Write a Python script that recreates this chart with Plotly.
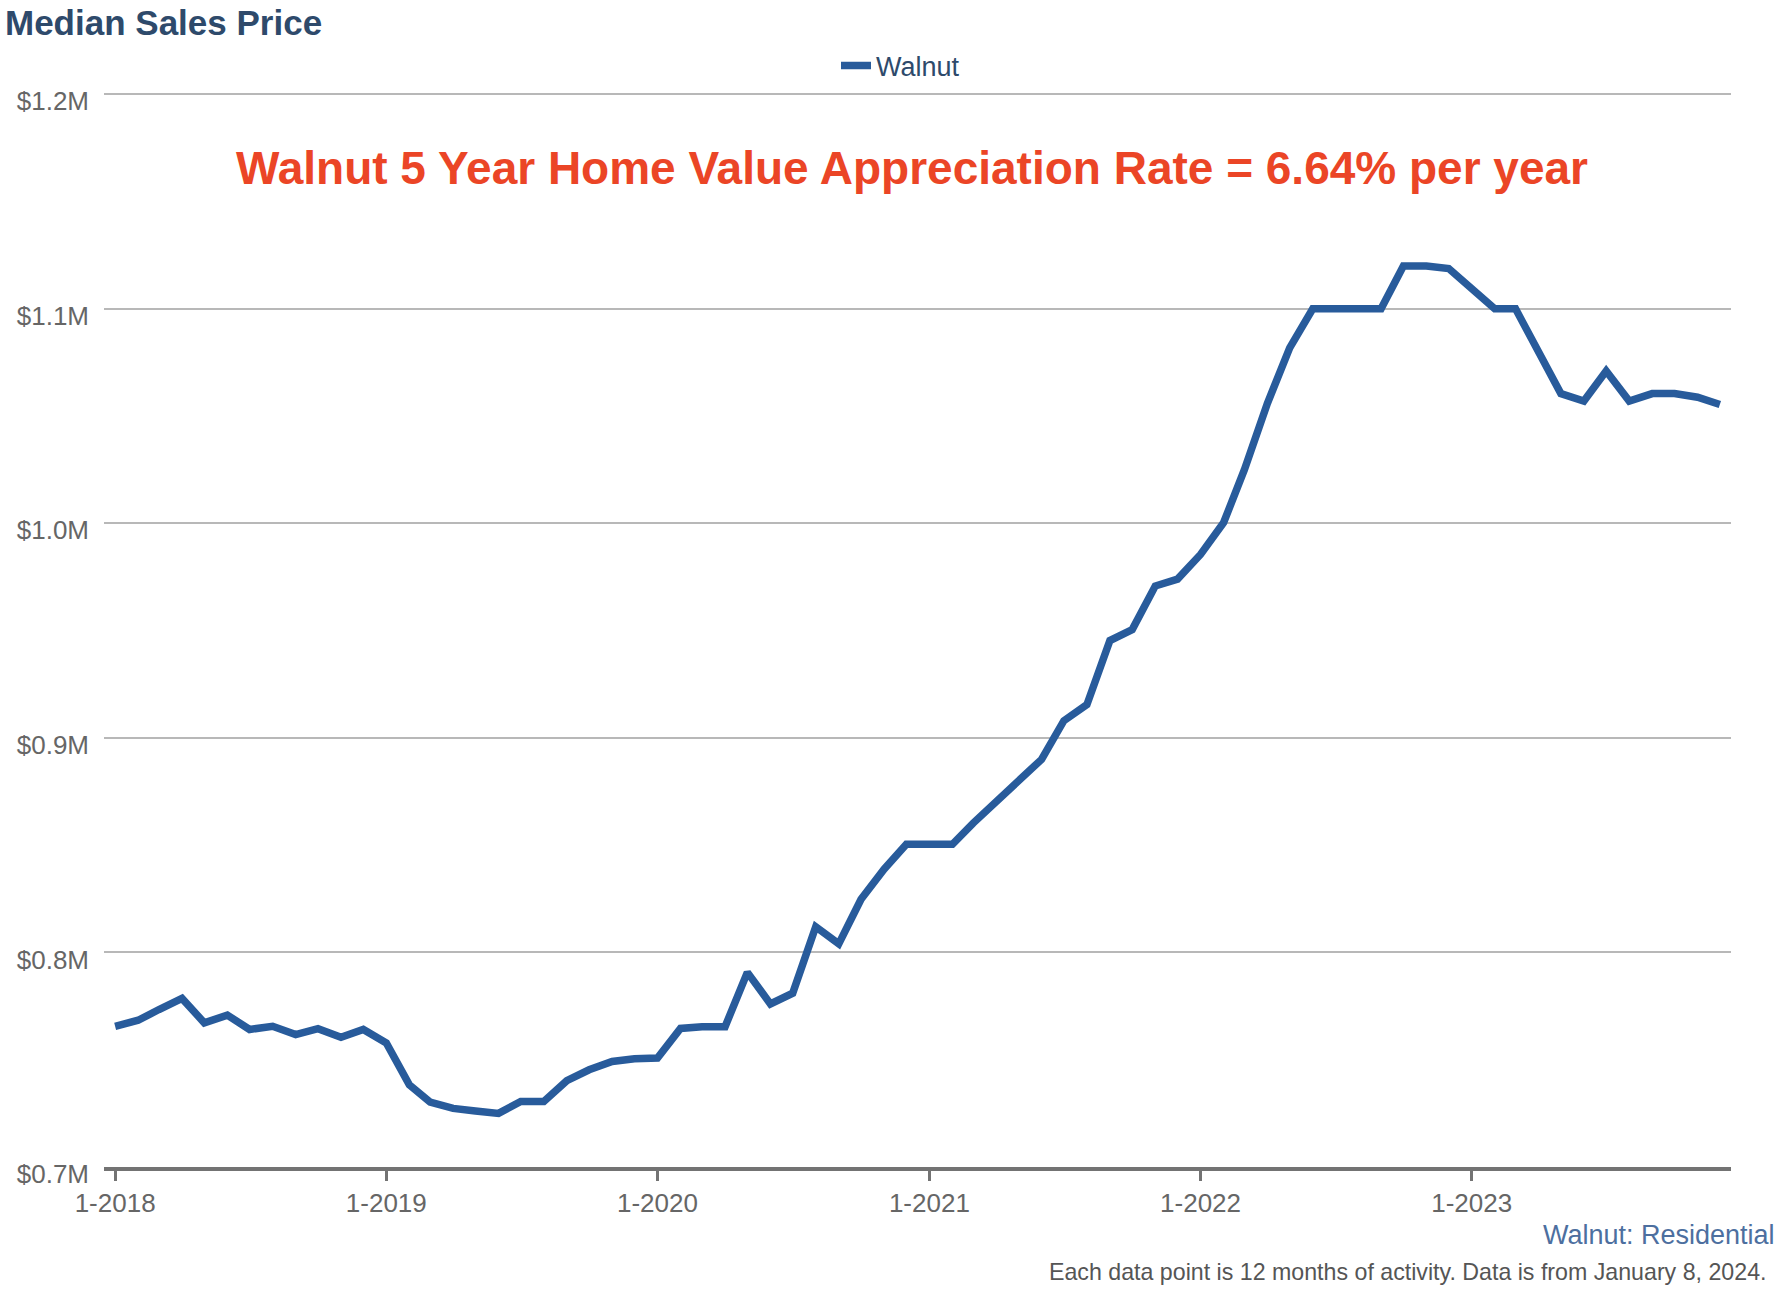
import pandas as pd
import plotly.graph_objects as go

# ---- data (median sales price, USD) ----
v2018 = [765600, 768400, 773400, 778600, 767200, 770800, 764100, 765600, 761700, 764500, 760500, 764100]
v2019 = [757800, 738300, 730200, 727300, 726100, 725000, 730500, 730500, 740200, 745300, 749200, 750500]
v2020 = [750800, 764600, 765400, 765400, 790700, 776000, 781000, 812000, 804000, 824800, 838800, 850400]
v2021 = [850400, 850400, 860300, 870000, 880000, 890000, 908000, 915500, 945400, 950500, 970800, 974000]
v2022 = [985500, 1000300, 1025000, 1056000, 1081800, 1100000, 1100000, 1100000, 1100000, 1120000, 1120000, 1118800]
v2023 = [1109800, 1100000, 1100000, 1080000, 1060500, 1057000, 1071000, 1057000, 1060500, 1060500, 1058800, 1055400]

values = v2018 + v2019 + v2020 + v2021 + v2022 + v2023
months = pd.date_range("2018-01-01", periods=len(values), freq="MS")

series_name = "Walnut"
x_tick_vals = ["2018-01-01", "2019-01-01", "2020-01-01", "2021-01-01", "2022-01-01", "2023-01-01"]
x_tick_text = ["1-2018", "1-2019", "1-2020", "1-2021", "1-2022", "1-2023"]
y_tick_vals = [700000, 800000, 900000, 1000000, 1100000, 1200000]
y_tick_text = ["$0.7M", "$0.8M", "$0.9M", "$1.0M", "$1.1M", "$1.2M"]

chart_title = "Median Sales Price"
headline = "Walnut 5 Year Home Value Appreciation Rate = 6.64% per year"
source_label = "Walnut: Residential"
footnote = "Each data point is 12 months of activity. Data is from January 8, 2024."

FONT = "Liberation Sans, Arial, Helvetica, sans-serif"
W, H = 1788, 1294
L, R, T, B = 104, 57, 93, 127
PW, PH = W - L - R, H - T - B

fig = go.Figure()
fig.add_trace(go.Scatter(
    x=months, y=values, mode="lines", name=series_name,
    line=dict(color="#285b9b", width=7.5),
))

fig.update_layout(
    width=W, height=H,
    margin=dict(l=L, r=R, t=T, b=B, pad=0, autoexpand=False),
    paper_bgcolor="white", plot_bgcolor="white",
    font=dict(family=FONT, color="#666666"),
    title=dict(
        text=chart_title, xref="container", yref="container",
        x=5 / W, xanchor="left", y=1 - 23 / H, yanchor="middle",
        font=dict(family=FONT, size=35, color="#2e4a6b", weight="bold"),
    ),
    showlegend=True,
    legend=dict(
        orientation="h", xref="container", yref="container",
        x=836 / W, xanchor="left", y=1 - 66 / H, yanchor="middle",
        font=dict(family=FONT, size=27, color="#2e4a6b"),
        bgcolor="rgba(0,0,0,0)",
    ),
    xaxis=dict(
        type="date",
        range=["2017-12-17", "2023-12-16"],
        tickvals=x_tick_vals, ticktext=x_tick_text,
        showgrid=False, zeroline=False,
        showline=True, linecolor="#737373", linewidth=4,
        ticks="outside", ticklen=10, tickwidth=3, tickcolor="#737373",
        tickfont=dict(family=FONT, size=26, color="#666666"),
        ticklabelstandoff=0,
    ),
    yaxis=dict(
        range=[700000, 1200600],
        tickvals=y_tick_vals, ticktext=y_tick_text,
        showgrid=True, gridcolor="#b8b8b8", gridwidth=2,
        zeroline=False, showline=False, ticks="",
        tickfont=dict(family=FONT, size=26, color="#666666"),
        ticklabelstandoff=14, ticklabelshift=7,
    ),
)

fig.add_annotation(
    text=headline, xref="paper", yref="paper",
    x=(912 - L) / PW, y=(H - B - 168) / PH,
    xanchor="center", yanchor="middle", showarrow=False,
    font=dict(family=FONT, size=46, color="#eb4526", weight="bold"),
)
fig.add_annotation(
    text=source_label, xref="paper", yref="paper",
    x=(1777 - L) / PW, y=-(1235 - (H - B)) / PH,
    xanchor="right", yanchor="middle", showarrow=False,
    font=dict(family=FONT, size=27, color="#4d6f9f"),
)
fig.add_annotation(
    text=footnote, xref="paper", yref="paper",
    x=(1768 - L) / PW, y=-(1272 - (H - B)) / PH,
    xanchor="right", yanchor="middle", showarrow=False,
    font=dict(family=FONT, size=23.2, color="#555555"),
)

fig.write_html(
    "out.html",
    config={"displayModeBar": False},
    post_script="document.body.style.margin='0';document.body.style.overflow='hidden';",
)
